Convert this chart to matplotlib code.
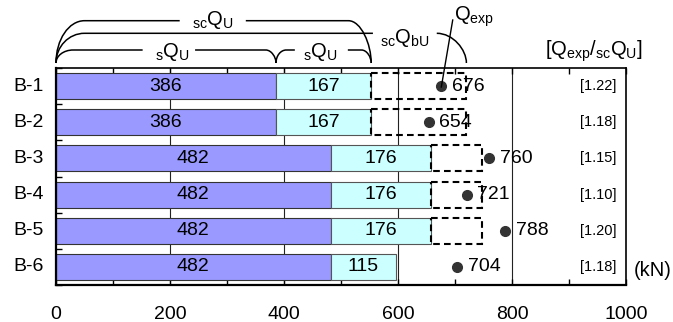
import matplotlib
matplotlib.use("Agg")
import matplotlib.pyplot as plt
from matplotlib.path import Path
from matplotlib.patches import PathPatch
import matplotlib.transforms as mtransforms

plt.rcParams['font.family'] = ['Liberation Sans', 'DejaVu Sans']
plt.rcParams['mathtext.fontset'] = 'custom'
plt.rcParams['mathtext.rm'] = 'Liberation Sans'
plt.rcParams['mathtext.it'] = 'Liberation Sans:italic'
plt.rcParams['mathtext.bf'] = 'Liberation Sans:bold'

# Specimens and strengths (kN)
specimens = ["B-1", "B-2", "B-3", "B-4", "B-5", "B-6"]
s_qu_beam = [386, 386, 482, 482, 482, 482]      # sQU (steel part)
s_qu_add = [167, 167, 176, 176, 176, 115]       # sQU (added part)
sc_qbu = [720, 720, 748, 748, 748, None]        # scQbU
q_exp = [676, 654, 760, 721, 788, 704]          # Qexp
ratios = ["[1.22]", "[1.18]", "[1.15]", "[1.10]", "[1.20]", "[1.18]"]
x_ticks = [0, 200, 400, 600, 800, 1000]

W, H = 673, 322
fig = plt.figure(figsize=(W / 100, H / 100), dpi=100)
ax_l, ax_r, ax_t, ax_b = 56, 626, 68, 285
ax = fig.add_axes([ax_l / W, (H - ax_b) / H, (ax_r - ax_l) / W, (ax_b - ax_t) / H])

rows = list(range(len(specimens)))
bar_h = 0.72
FS = 14

# vertical grid lines behind the bars
for gx in x_ticks[1:-1]:
    ax.axvline(gx, color='#222222', lw=0.8, zorder=0)

ax.barh(rows, s_qu_beam, height=bar_h, color='#9999FF', edgecolor='#333333', lw=0.8, zorder=2)
ax.barh(rows, s_qu_add, left=s_qu_beam, height=bar_h, color='#CCFFFF', edgecolor='#555555', lw=0.8, zorder=2)

for r in rows:
    total = s_qu_beam[r] + s_qu_add[r]
    if sc_qbu[r] is not None:
        ax.barh(r, sc_qbu[r] - total, left=total, height=bar_h, fill=False,
                edgecolor='black', lw=1.5, linestyle=(0, (3.2, 2.0)), zorder=3)
    ax.text(s_qu_beam[r] / 2, r, str(s_qu_beam[r]), ha='center', va='center', fontsize=FS, zorder=4)
    ax.text(s_qu_beam[r] + s_qu_add[r] / 2, r, str(s_qu_add[r]), ha='center', va='center', fontsize=FS, zorder=4)
    ax.plot(q_exp[r], r, 'o', color='#333333', ms=7, zorder=5)
    ax.annotate(str(q_exp[r]), xy=(q_exp[r], r), xytext=(7.5, 0), textcoords='offset points',
                ha='left', va='center', fontsize=FS, zorder=5)
    ax.text(983, r, ratios[r], ha='right', va='center', fontsize=10.5, zorder=5)
    ax.text(-22, r, specimens[r], ha='right', va='center', fontsize=FS)

ax.set_xlim(0, 1000)
ax.set_ylim(len(specimens) - 0.5, -0.5)
ax.set_xticks(x_ticks)
ax.set_xticklabels([str(t) for t in x_ticks], fontsize=FS)
ax.set_xticks([100, 300, 500, 700, 900], minor=True)
ax.set_yticks([])
ax.set_yticks([r + 0.5 for r in rows[:-1]] + [-0.5, len(rows) - 0.5], minor=True)
ax.tick_params(axis='x', which='both', direction='in', top=True, length=4, width=1, pad=15)
ax.tick_params(axis='y', which='minor', direction='in', length=4, width=1)
for side in ['left', 'bottom']:
    ax.spines[side].set_linewidth(1.6)
for side in ['top', 'right']:
    ax.spines[side].set_linewidth(1.2)

ax.text(672 / W, (H - 270) / H, "(kN)", transform=fig.transFigure, ha='right', va='center', fontsize=14.5)

# bracket annotations above the plot (x in kN, y in axes fraction)
trans = mtransforms.blended_transform_factory(ax.transData, ax.transAxes)


def ya(px):
    return (ax_b - px) / (ax_b - ax_t)


K = 0.5523


def curve_up(x0, x1, yb, yt):
    # quarter-ellipse from (x0, yb) rising to horizontal at (x1, yt)
    dx = x1 - x0
    return [(x0, yb), (x0, yb + K * (yt - yb)), (x1 - K * dx, yt), (x1, yt)]


def curve_down(x0, x1, yt, yb):
    # quarter-ellipse from horizontal at (x0, yt) bending down to (x1, yb)
    dx = x1 - x0
    return [(x0, yt), (x0 + K * dx, yt), (x1, yt - K * (yt - yb)), (x1, yb)]


def draw_path(segments):
    verts, codes = [], []
    for kind, pts in segments:
        if kind == 'curve':
            verts += pts
            codes += [Path.MOVETO, Path.CURVE4, Path.CURVE4, Path.CURVE4]
        else:
            verts += pts
            codes += [Path.MOVETO, Path.LINETO]
    p = PathPatch(Path(verts, codes), transform=trans, fill=False, lw=1.1,
                  edgecolor='black', clip_on=False)
    ax.add_patch(p)


yb = ya(63)
y_top, y_mid, y_low = ya(20.7), ya(33.3), ya(50)
QFS = 14.5

# scQU bracket
draw_path([('curve', curve_up(0, 50, yb, y_top)),
           ('line', [(50, y_top), (217, y_top)]),
           ('line', [(333, y_top), (513, y_top)]),
           ('curve', curve_down(513, 553, y_top, yb))])
ax.text(275, ya(25), r'${}_{\mathrm{sc}}\mathrm{Q}_{\mathrm{U}}$', transform=trans,
        ha='center', va='baseline', fontsize=QFS)

# scQbU bracket
draw_path([('curve', curve_up(0, 50, yb, y_mid)),
           ('line', [(50, y_mid), (556, y_mid)]),
           ('curve', curve_down(668, 720, y_mid, yb))])
ax.text(612, ya(43), r'${}_{\mathrm{sc}}\mathrm{Q}_{\mathrm{bU}}$', transform=trans,
        ha='center', va='baseline', fontsize=QFS)

# sQU brackets
draw_path([('curve', curve_up(0, 30, yb, y_low)),
           ('line', [(30, y_low), (152, y_low)]),
           ('line', [(244, y_low), (368, y_low)]),
           ('curve', curve_down(368, 386, y_low, yb)),
           ('curve', curve_up(386, 404, yb, y_low)),
           ('line', [(404, y_low), (419, y_low)]),
           ('line', [(512, y_low), (536, y_low)]),
           ('curve', curve_down(536, 553, y_low, yb))])
ax.text(205, ya(57), r'${}_{\mathrm{s}}\mathrm{Q}_{\mathrm{U}}$', transform=trans,
        ha='center', va='baseline', fontsize=QFS)
ax.text(464, ya(57), r'${}_{\mathrm{s}}\mathrm{Q}_{\mathrm{U}}$', transform=trans,
        ha='center', va='baseline', fontsize=QFS)

# Qexp leader
ax.plot([q_exp[0], 696], [ya(87), ya(20)], transform=trans,
        color='black', lw=1.0, clip_on=False, zorder=6)
ax.text(698, ya(21), r'$\mathrm{Q}_{\mathrm{exp}}$', transform=trans,
        ha='left', va='baseline', fontsize=QFS)

ax.text(944, ya(56), r'$[\mathrm{Q}_{\mathrm{exp}}/{}_{\mathrm{sc}}\mathrm{Q}_{\mathrm{U}}]$', transform=trans,
        ha='center', va='baseline', fontsize=QFS)

fig.savefig("out.png", dpi=100)
